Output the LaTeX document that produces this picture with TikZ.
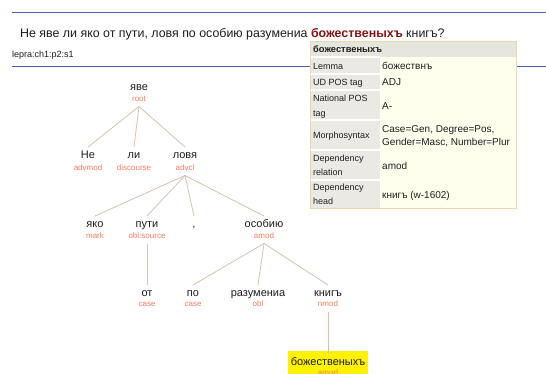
\documentclass[tikz,border=0pt]{standalone}
\usepackage{fontspec}
\setmainfont{Liberation Sans}
\usetikzlibrary{calc}
\definecolor{lab}{RGB}{250,125,95}
\definecolor{edgec}{RGB}{215,195,175}
\definecolor{blueline}{RGB}{75,100,185}
\definecolor{hl}{RGB}{135,20,20}
\definecolor{txt}{RGB}{30,30,30}
\definecolor{cellgray}{RGB}{234,233,228}
\definecolor{hdrgray}{RGB}{230,229,222}
\definecolor{cellyel}{RGB}{255,255,238}
\definecolor{tborder}{RGB}{240,215,170}
\begin{document}
\begin{tikzpicture}[x=1pt,y=-1pt,
 word/.style={font=\fontsize{11}{13}\selectfont, text=txt, text height=8pt, text depth=0pt, inner sep=0pt, outer sep=3.5pt, anchor=base},
 deprel/.style={font=\fontsize{8}{9}\selectfont, text=lab, text height=6pt, text depth=2pt, inner sep=0pt, outer sep=3pt, anchor=base},
 dep/.style={draw=edgec, line width=0.8pt},
 tcell/.style={font=\fontsize{9}{11}\selectfont, text=txt, inner sep=0pt, anchor=base west},
 tval/.style={font=\fontsize{10}{12}\selectfont, text=txt, inner sep=0pt, anchor=base west},
 rule/.style={draw=blueline, line width=0.9pt}]
\clip (0,0) rectangle (546,374);
\fill[white] (0,0) rectangle (546,374);
% header
\coordinate (l1a) at (12,12); \coordinate (l1b) at (546,12);
\coordinate (l2a) at (12,66); \coordinate (l2b) at (546,66);
\draw[rule] (l1a) -- (l1b);
\draw[rule] (l2a) -- (l2b);
\node[anchor=base west, font=\fontsize{12.4}{14}\selectfont, text=txt, inner sep=0pt] (title) at (20,37.5)
 {Не яве ли яко от пути, ловя по особию разумениа \textbf{\color{hl}божественыхъ} книгъ?};
\node[anchor=base west, font=\fontsize{9}{11}\selectfont, text=txt, inner sep=0pt] (sid) at (12,57.5) {lepra:ch1:p2:s1};
% tree
\node[word] (yave) at (139,90.5) {яве};
\node[deprel] (yaveL) at (139,101.5) {root};
\node[word] (ne) at (88,158.5) {Не};
\node[deprel] (neL) at (88,170.5) {advmod};
\node[word] (li) at (134,158.5) {ли};
\node[deprel] (liL) at (134,170.5) {discourse};
\node[word] (lovya) at (185,158.5) {ловя};
\node[deprel] (lovyaL) at (185,170.5) {advcl};
\node[word] (yako) at (95,227.5) {яко};
\node[deprel] (yakoL) at (95,238.5) {mark};
\node[word] (puti) at (147,227.5) {пути};
\node[deprel] (putiL) at (147,238.5) {obl:source};
\node[word] (comma) at (194,227.5) {,};
\node[word] (osob) at (264,227.5) {особию};
\node[deprel] (osobL) at (264,238.5) {amod};
\node[word] (ot) at (147,296.5) {от};
\node[deprel] (otL) at (147,306.5) {case};
\node[word] (po) at (193,296.5) {по};
\node[deprel] (poL) at (193,306.5) {case};
\node[word] (razum) at (258,296.5) {разумениа};
\node[deprel] (razumL) at (258,306.5) {obl};
\node[word] (knig) at (328,296.5) {книгъ};
\node[deprel] (knigL) at (328,306.5) {nmod};
\fill[yellow] (288,351) rectangle (368,380);
\node[word] (bozh) at (328,365.5) {божественыхъ};
\node[deprel] (bozhL) at (328,375.5) {amod};
\foreach \p/\c in {yaveL/ne, yaveL/li, yaveL/lovya, lovyaL/yako, lovyaL/puti, lovyaL/comma, lovyaL/osob, putiL/ot, osobL/po, osobL/razum, osobL/knig, knigL/bozh}
  \draw[dep] (\p.south) -- (\c.north);
% table
\fill[hdrgray] (310,42) rectangle (516,57);
\fill[cellyel] (380,57) rectangle (516,209);
\fill[cellgray] (310,57) rectangle (380,209);
\foreach \yy in {57,74,90,120,150,180}
  \draw[white, line width=1.2pt] (310,\yy) -- (380,\yy);
\draw[white, line width=1pt] (380,57) -- (380,209);
\draw[tborder, line width=1pt] (310,42) rectangle (516,209);
\node[tcell, font=\bfseries\fontsize{9.3}{11}\selectfont] (th) at (313,53) {божественыхъ};
\node[tcell] (k1) at (313,70) {Lemma};
\node[tval] (v1) at (382,70) {божествнъ};
\node[tcell] (k2) at (313,86) {UD POS tag};
\node[tval] (v2) at (382,86) {ADJ};
\node[tcell] (k3a) at (313,102) {National POS};
\node[tcell] (k3b) at (313,117) {tag};
\node[tval] (v3) at (382,109.5) {A-};
\node[tcell] (k4) at (313,139) {Morphosyntax};
\node[tval] (v4a) at (382,132.5) {Case=Gen, Degree=Pos,};
\node[tval] (v4b) at (382,146) {Gender=Masc, Number=Plur};
\node[tcell] (k5a) at (313,162) {Dependency};
\node[tcell] (k5b) at (313,176) {relation};
\node[tval] (v5) at (382,169.5) {amod};
\node[tcell] (k6a) at (313,191) {Dependency};
\node[tcell] (k6b) at (313,205) {head};
\node[tval] (v6) at (382,198.5) {книгъ (w-1602)};
\end{tikzpicture}
\end{document}
